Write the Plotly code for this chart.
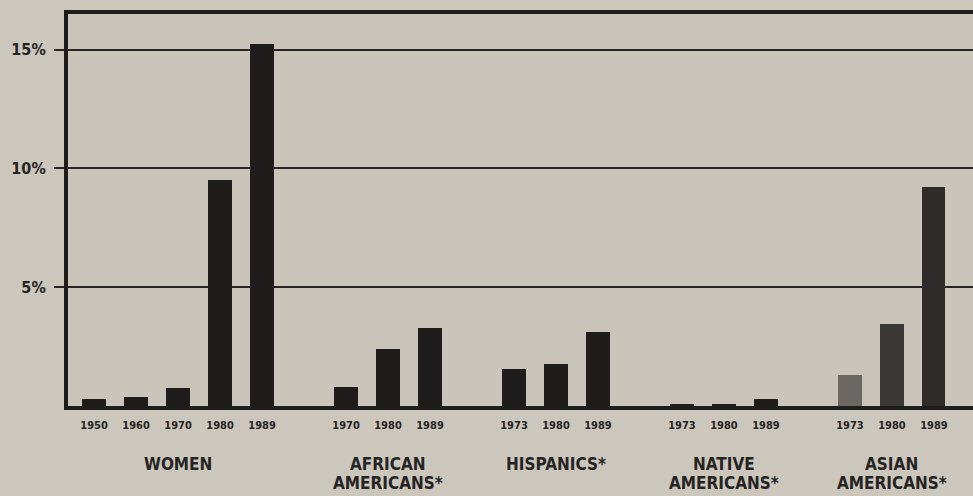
"""Share of group by year - scanned newspaper style bar chart."""

import plotly.graph_objects as go

groups = [
    ["WOMEN"],
    ["AFRICAN", "AMERICANS*"],
    ["HISPANICS*"],
    ["NATIVE", "AMERICANS*"],
    ["ASIAN", "AMERICANS*"],
]
years = [
    ["1950", "1960", "1970", "1980", "1989"],
    ["1970", "1980", "1989"],
    ["1973", "1980", "1989"],
    ["1973", "1980", "1989"],
    ["1973", "1980", "1989"],
]
values = [
    [0.3, 0.4, 0.75, 9.5, 15.25],
    [0.8, 2.4, 3.3],
    [1.55, 1.75, 3.1],
    [0.1, 0.1, 0.3],
    [1.3, 3.45, 9.2],
]

INK = "#1f1d1c"
TEXT = "#262423"
PAPER = "#cbc7bd"
# the asian bars print as a grey screen rather than solid ink
group_colors = [INK, INK, INK, INK, ["#6b6864", "#3b3937", "#2e2c2b"]]

# lay bars out one slot apart with an empty slot between groups
xs, ys, cols, ticks, centers = [], [], [], [], []
pos = 0
for g, (yrs, vals) in enumerate(zip(years, values)):
    start = pos
    for i, (yr, v) in enumerate(zip(yrs, vals)):
        xs.append(pos)
        ys.append(v)
        c = group_colors[g]
        cols.append(c[i] if isinstance(c, list) else c)
        ticks.append(yr)
        pos += 1
    centers.append((start + pos - 1) / 2)
    pos += 1

fig = go.Figure()
fig.add_trace(
    go.Bar(
        x=xs,
        y=ys,
        width=0.55,
        marker={"color": cols, "line": {"width": 0}},
        showlegend=False,
    )
)

narrow = "DejaVu Sans Condensed, Liberation Sans Narrow, Arial Narrow, sans-serif"

for cx, lines in zip(centers, groups):
    for k, line in enumerate(lines):
        fig.add_annotation(
            x=cx,
            y=-0.148 - 0.049 * k,
            xref="x",
            yref="paper",
            text=line,
            showarrow=False,
            yanchor="middle",
            font={"family": narrow, "size": 17, "color": TEXT, "weight": "bold"},
        )

fig.update_layout(
    width=973,
    height=496,
    paper_bgcolor=PAPER,
    plot_bgcolor="#c9c5bb",
    margin={"l": 68, "r": 0, "t": 14, "b": 90},
    bargap=0,
    xaxis={
        "range": [-0.62, 20.93],
        "tickvals": xs,
        "ticktext": ticks,
        "tickfont": {"family": narrow, "size": 11, "color": TEXT, "weight": "bold"},
        "ticks": "",
        "ticklabelstandoff": 6,
        "showgrid": False,
        "zeroline": False,
        "showline": True,
        "linewidth": 4,
        "linecolor": INK,
        "mirror": True,
    },
    yaxis={
        "range": [0, 16.5],
        "tickvals": [5, 10, 15],
        "ticktext": ["5%", "10%", "15%"],
        "tickfont": {"family": narrow, "size": 16, "color": TEXT, "weight": "bold"},
        "ticks": "outside",
        "ticklen": 10,
        "tickwidth": 2,
        "tickcolor": TEXT,
        "ticklabelstandoff": 5,
        "showgrid": True,
        "gridcolor": TEXT,
        "gridwidth": 2,
        "zeroline": False,
        "showline": True,
        "linewidth": 4,
        "linecolor": INK,
    },
)

fig.write_html(
    "out.html",
    config={"displayModeBar": False},
    post_script="document.body.style.margin='0';",
)
